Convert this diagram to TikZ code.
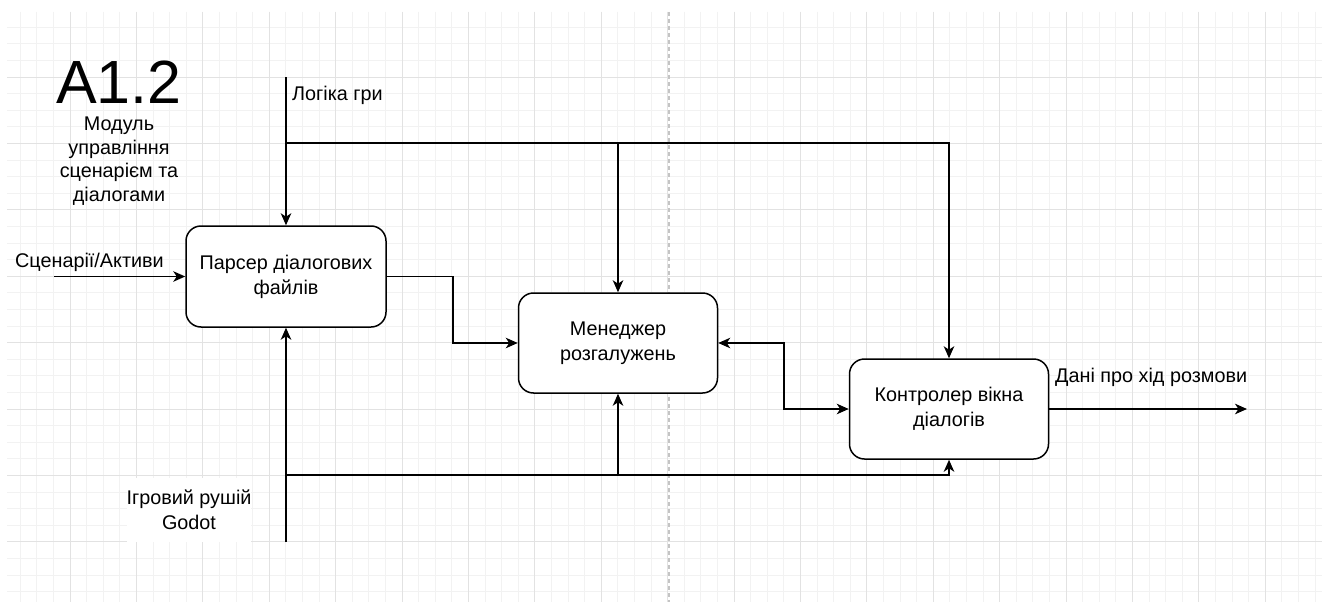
\documentclass[tikz,border=0pt]{standalone}
\usepackage{fontspec}
\setmainfont{Liberation Sans}
\usetikzlibrary{arrows.meta,calc}
\definecolor{gridminor}{HTML}{F2F2F2}
\definecolor{gridmajor}{HTML}{E2E2E2}
\definecolor{pageline}{HTML}{C4C4C4}
\begin{document}
\begin{tikzpicture}[x=1pt,y=-1pt,
  every node/.style={font=\fontsize{19.8}{25}\selectfont, text=black},
  fnbox/.style={draw, line width=1.5pt, rounded corners=15pt, fill=white,
    minimum width=200pt, minimum height=101pt, align=center, inner sep=0pt},
  arr/.style={line width=1.8pt, -{Stealth[length=12pt,width=10.5pt,inset=3.5pt]}},
  biarr/.style={line width=1.8pt, {Stealth[length=12pt,width=10.5pt,inset=3.5pt]}-{Stealth[length=12pt,width=10.5pt,inset=3.5pt]}},
  lbl/.style={inner sep=0pt, anchor=west}]
\useasboundingbox (0,0) rectangle (1322,602);
\fill[white] (0,0) rectangle (1322,602);

% background grid
\begin{scope}
  \clip (7,12) rectangle (1322,602);
  \foreach \k in {-3,...,75} \draw[gridminor, line width=1pt] ({70+16.6*\k},12) -- ({70+16.6*\k},602);
  \foreach \k in {-3,...,31} \draw[gridminor, line width=1pt] (7,{77+16.6*\k}) -- (1322,{77+16.6*\k});
  \foreach \m in {0,...,18} \draw[gridmajor, line width=1pt] ({70+66.4*\m},12) -- ({70+66.4*\m},602);
  \foreach \m in {0,...,7} \draw[gridmajor, line width=1pt] (7,{77+66.4*\m}) -- (1322,{77+66.4*\m});
\end{scope}
% page boundary
\draw[pageline, line width=1.2pt, dash pattern=on 4pt off 3pt] (669,12) -- (669,602);

% title block
\node (title) at (119,82) {\fontsize{61}{64}\selectfont A1.2};
\node (subtitle) [align=center, font=\fontsize{19.8}{23.5}\selectfont] at (119,161)
  {Модуль\\управління\\сценарієм та\\діалогами};

% function blocks
\node[fnbox] (parser) at (286,276.5) {Парсер діалогових\\файлів};
\node[fnbox, minimum width=199pt, minimum height=100pt] (manager) at (618,343) {Менеджер\\розгалужень};
\node[fnbox, minimum width=199pt, minimum height=100pt] (ctrl) at (949,409) {Контролер вікна\\діалогів};

% input
\coordinate (inS) at (54,276.5);
\draw[arr] (inS) -- (parser.west);
\node[lbl] (inL) at (15,262) {Сценарії/Активи};

% control
\coordinate (ctlTop) at (286,77);
\coordinate (ctlJ) at (286,143);
\draw[arr] (ctlTop) -- (parser.north);
\draw[arr] (ctlJ) -| (ctrl.north);
\draw[arr] (ctlJ -| manager.north) -- (manager.north);
\node[lbl] (ctlL) at (292,95) {Логіка гри};

% mechanism
\coordinate (mechB) at (286,542);
\coordinate (mechJ) at (286,475);
\draw[arr] (mechB) -- (parser.south);
\draw[arr] (mechJ) -| (ctrl.south);
\draw[arr] (mechJ -| manager.south) -- (manager.south);
\node[align=center, fill=white, inner sep=0pt, minimum width=116pt, minimum height=64pt,
  font=\fontsize{19.8}{24.5}\selectfont] (mechL) at (189,509.5) {Ігровий рушій\\Godot};

% internal flows
\draw[arr] (parser.east) -- ++(66,0) |- (manager.west);
\draw[biarr] (manager.east) -- ++(66,0) |- (ctrl.west);

% output
\coordinate (outE) at (1247,409);
\draw[arr] (ctrl.east) -- (outE);
\node[lbl] (outL) at (1055,377) {Дані про хід розмови};
\end{tikzpicture}
\end{document}
